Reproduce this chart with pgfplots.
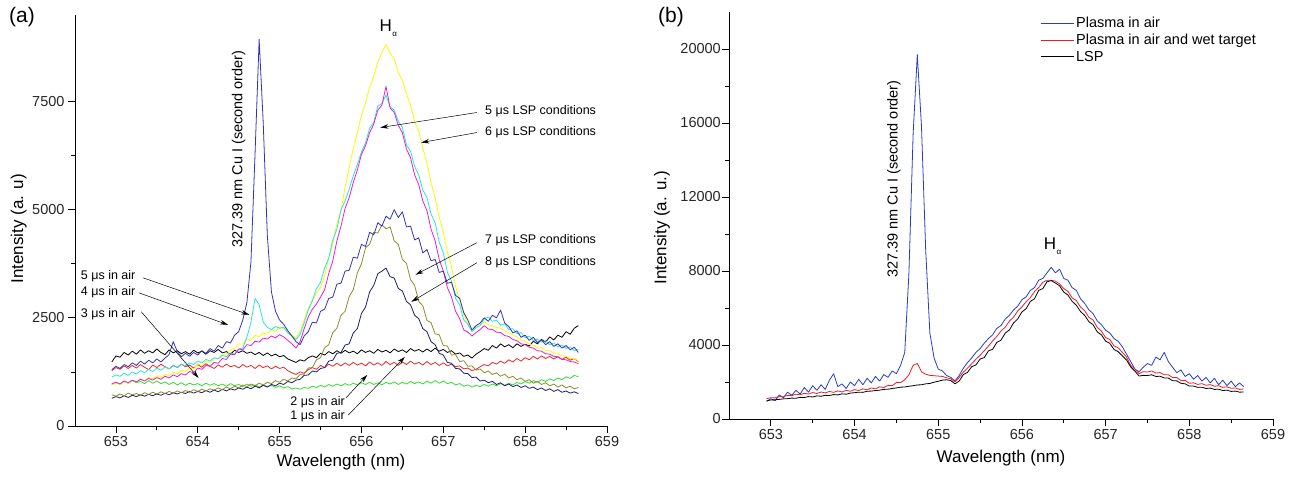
\documentclass[border=0pt]{standalone}
\usepackage{pgfplots}
\pgfplotsset{compat=1.18}
\usepackage{pgfplotstable}
\usepackage{fontspec}
\setmainfont{Liberation Sans}
\usetikzlibrary{arrows.meta}

\definecolor{blA}{RGB}{51,51,179}
\definecolor{cyA}{RGB}{40,228,228}
\definecolor{yeA}{RGB}{250,250,0}
\definecolor{maA}{RGB}{230,30,210}
\definecolor{olA}{RGB}{140,140,40}
\definecolor{nvA}{RGB}{30,30,110}
\definecolor{rdA}{RGB}{230,40,40}
\definecolor{grA}{RGB}{50,220,50}
\definecolor{blB}{RGB}{40,60,200}
\definecolor{rdB}{RGB}{230,30,40}

\pgfplotstableread{
x bl cy ye ma ol nv bk rd gr
652.95 1300 1130 950 980 720 640 1480 1280 950
653.00 1380 1180 990 1010 690 680 1620 1350 1010
653.05 1330 1150 960 970 740 650 1590 1310 970
653.10 1420 1220 1030 1040 700 700 1700 1390 1040
653.15 1370 1170 990 1000 760 660 1640 1330 990
653.20 1460 1250 1060 1060 720 710 1730 1400 1050
653.25 1400 1200 1020 1020 750 680 1660 1340 1000
653.30 1500 1280 1090 1080 710 720 1760 1420 1030
653.35 1430 1230 1050 1040 770 690 1680 1360 980
653.40 1520 1310 1120 1100 730 730 1740 1300 1050
653.45 1460 1260 1090 1060 780 700 1690 1410 990
653.50 1550 1340 1160 1120 740 740 1780 1350 1040
653.55 1480 1290 1120 1080 790 710 1700 1430 980
653.60 1570 1370 1200 1150 750 760 1650 1370 1020
653.65 1650 1320 1170 1110 800 720 1760 1320 960
653.70 1950 1400 1240 1180 760 770 1690 1400 1010
653.75 1720 1350 1210 1140 810 740 1740 1350 950
653.80 1600 1430 1290 1210 770 780 1670 1430 1000
653.85 1680 1390 1260 1180 820 750 1720 1370 940
653.90 1610 1460 1340 1260 780 800 1660 1410 990
653.95 1700 1420 1310 1230 840 760 1750 1340 950
654.00 1640 1500 1440 1340 800 800 1690 1420 980
654.05 1740 1460 1400 1310 850 770 1730 1360 930
654.10 1680 1540 1500 1400 810 820 1660 1440 990
654.15 1790 1500 1460 1380 860 780 1740 1380 940
654.20 1730 1580 1560 1470 830 830 1700 1330 980
654.25 1860 1550 1560 1450 880 790 1770 1410 930
654.30 1800 1630 1650 1560 840 850 1690 1360 970
654.35 1950 1600 1640 1540 900 810 1720 1430 920
654.40 1920 1690 1760 1660 860 860 1660 1370 980
654.45 2100 1660 1780 1650 920 830 1750 1400 930
654.50 2180 1780 1900 1780 880 880 1700 1340 960
654.55 2450 1800 1890 1760 950 850 1740 1420 910
654.60 2850 2050 2010 1880 910 900 1680 1360 970
654.65 3800 2400 1980 1860 970 860 1710 1400 920
654.70 6300 2950 2100 1960 930 920 1650 1330 950
654.75 8940 2800 2060 1940 990 880 1700 1410 900
654.80 7000 2400 2150 2030 950 940 1630 1350 950
654.85 4400 2280 2120 2010 1010 900 1690 1390 910
654.90 3100 2230 2230 2080 980 960 1620 1320 940
654.95 2650 2300 2190 2040 1050 930 1660 1380 890
655.00 2450 2260 2290 2110 1010 990 1600 1330 930
655.05 2350 2280 2250 2060 1080 960 1630 1360 880
655.10 2200 2150 2200 1980 1040 1030 1550 1280 910
655.15 2080 2080 2100 1900 1110 1000 1510 1230 860
655.20 1950 2000 2040 1800 1090 1060 1470 1190 880
655.25 1880 2120 2180 1950 1190 1080 1530 1250 850
655.30 2080 2380 2450 2250 1200 1170 1500 1220 890
655.35 2180 2680 2720 2520 1340 1180 1580 1300 870
655.40 2400 2900 2880 2700 1350 1270 1620 1350 920
655.45 2380 3180 3080 2820 1530 1250 1580 1310 890
655.50 2650 3320 3200 2980 1580 1330 1680 1400 940
655.55 2700 3650 3480 3150 1810 1350 1640 1350 900
655.60 2950 3880 3880 3520 1880 1500 1720 1430 960
655.65 2980 4300 4220 3820 2160 1520 1670 1380 920
655.70 3280 4550 4680 4280 2260 1680 1740 1450 970
655.75 3300 5000 4980 4620 2560 1700 1680 1390 930
655.80 3580 5200 5520 5030 2650 1870 1750 1460 980
655.85 3600 5480 5980 5280 2990 1900 1690 1400 940
655.90 3900 5780 6420 5630 3150 2150 1730 1470 990
655.95 3880 6050 6780 5920 3540 2250 1670 1410 950
656.00 4200 6330 7180 6280 3750 2600 1760 1450 1000
656.05 4150 6550 7480 6480 4120 2750 1700 1390 960
656.10 4480 6880 7830 6780 4200 3100 1740 1480 1010
656.15 4420 7020 8080 6980 4480 3250 1680 1410 960
656.20 4700 7400 8420 7300 4460 3520 1770 1460 1000
656.25 4620 7450 8630 7420 4650 3580 1710 1400 950
656.30 4850 7650 8820 7850 4560 3650 1750 1490 1010
656.35 4780 7380 8620 7350 4600 3450 1690 1420 970
656.40 5000 7300 8480 7250 4280 3420 1780 1470 1020
656.45 4820 7050 8180 6950 4200 3180 1720 1400 960
656.50 4950 6900 7980 6780 3850 3120 1760 1480 1010
656.55 4600 6500 7680 6400 3760 2880 1700 1420 970
656.60 4620 6350 7420 6200 3380 2800 1790 1500 1030
656.65 4300 6000 7030 5800 3250 2560 1730 1430 980
656.70 4350 5800 6820 5580 2880 2480 1770 1470 1020
656.75 4000 5450 6420 5200 2780 2250 1710 1410 970
656.80 4080 5280 6080 4980 2440 2180 1780 1490 1040
656.85 3820 4900 5620 4550 2390 1950 1720 1420 990
656.90 3850 4700 5280 4280 2130 1880 1800 1470 1050
656.95 3550 4250 4830 3850 2110 1680 1730 1400 990
657.00 3580 4000 4480 3580 1860 1640 1770 1460 1040
657.05 3300 3550 4020 3200 1850 1470 1700 1390 980
657.10 3320 3350 3680 2980 1640 1450 1740 1430 1010
657.15 3020 2950 3230 2650 1650 1330 1660 1370 950
657.20 2950 2800 2920 2480 1490 1320 1690 1390 980
657.25 2620 2450 2580 2220 1510 1220 1610 1320 920
657.30 2450 2350 2370 2170 1380 1210 1640 1340 950
657.35 2220 2180 2180 2080 1390 1120 1570 1280 900
657.40 2320 2280 2260 2160 1290 1130 1660 1310 940
657.45 2380 2320 2330 2230 1320 1040 1720 1370 910
657.50 2500 2480 2420 2320 1230 1060 1790 1420 960
657.55 2420 2520 2340 2240 1270 1000 1750 1390 920
657.60 2560 2420 2310 2230 1190 1030 1860 1470 970
657.65 2500 2450 2280 2170 1230 960 1800 1430 930
657.70 2680 2330 2260 2160 1150 1000 1900 1500 980
657.75 2380 2360 2200 2090 1200 930 1830 1450 940
657.80 2300 2230 2160 2070 1110 970 1880 1530 990
657.85 2150 2250 2100 2000 1150 910 1810 1480 950
657.90 2200 2130 2060 1970 1070 950 1900 1560 1010
657.95 2050 2160 1990 1900 1110 890 1840 1500 970
658.00 2100 2040 1960 1880 1030 930 1890 1580 1030
658.05 1980 2080 1890 1820 1070 870 1850 1530 990
658.10 2050 1970 1860 1800 990 900 1960 1610 1050
658.15 1930 2010 1800 1740 1030 840 1900 1550 1010
658.20 1990 1940 1810 1730 960 880 2000 1620 1070
658.25 1880 1970 1740 1670 1000 820 1940 1560 1030
658.30 1950 1880 1740 1660 930 860 2060 1610 1090
658.35 1840 1920 1680 1610 970 800 1990 1550 1050
658.40 1900 1830 1680 1600 900 840 2100 1600 1110
658.45 1800 1870 1620 1540 950 780 2050 1540 1070
658.50 1860 1790 1610 1530 880 810 2180 1590 1140
658.55 1760 1830 1560 1490 920 760 2120 1520 1100
658.60 1820 1740 1560 1480 860 790 2260 1560 1170
658.65 1700 1780 1510 1440 890 750 2320 1490 1140
}\tabA

\pgfplotstableread{
x bl rd bk
652.95 950 1100 980
653.00 1100 1150 1030
653.05 980 1140 1040
653.10 1300 1220 1060
653.15 1150 1200 1090
653.20 1450 1280 1100
653.25 1280 1260 1130
653.30 1550 1340 1120
653.35 1350 1310 1170
653.40 1700 1390 1160
653.45 1450 1350 1210
653.50 1800 1430 1190
653.55 1550 1380 1250
653.60 1850 1460 1230
653.65 1600 1410 1280
653.70 2100 1490 1270
653.75 2450 1440 1320
653.80 1750 1520 1300
653.85 1900 1460 1360
653.90 1650 1550 1340
653.95 2000 1500 1400
654.00 1800 1590 1420
654.05 2150 1540 1450
654.10 1850 1630 1440
654.15 2200 1580 1500
654.20 1950 1680 1510
654.25 2300 1630 1540
654.30 2050 1740 1560
654.35 2400 1700 1600
654.40 2250 1820 1610
654.45 2600 1800 1650
654.50 2450 1970 1680
654.55 2900 1970 1720
654.60 3600 2120 1730
654.65 7900 2400 1770
654.70 15400 2900 1800
654.75 19700 3000 1840
654.80 15800 2550 1850
654.85 9150 2420 1900
654.90 4650 2360 1920
654.95 3300 2340 1990
655.00 2700 2320 2040
655.05 2600 2300 2100
655.10 2350 2230 2120
655.15 2250 2170 2080
655.20 2050 2010 1900
655.25 2350 2240 2050
655.30 2750 2530 2400
655.35 3050 2750 2520
655.40 3300 2990 2830
655.45 3600 3230 2920
655.50 3800 3450 3240
655.55 4100 3690 3320
655.60 4350 3940 3680
655.65 4550 4220 3770
655.70 4900 4460 4140
655.75 5050 4760 4260
655.80 5400 4960 4640
655.85 5600 5290 4810
655.90 5900 5510 5190
655.95 6100 5840 5410
656.00 6450 6060 5790
656.05 6600 6340 5960
656.10 6950 6560 6350
656.15 7100 6890 6500
656.20 7500 7100 6950
656.25 7600 7390 7050
656.30 7900 7500 7420
656.35 8200 7500 7480
656.40 7900 7450 7350
656.45 8100 7300 7200
656.50 7600 7050 6860
656.55 7500 6900 6700
656.60 7100 6550 6360
656.65 6950 6400 6150
656.70 6500 6050 5810
656.75 6250 5850 5600
656.80 5900 5500 5260
656.85 5700 5350 5100
656.90 5300 4950 4710
656.95 5100 4750 4550
657.00 4800 4400 4210
657.05 4650 4300 4090
657.10 4350 3950 3760
657.15 4200 3850 3640
657.20 3900 3600 3410
657.25 3500 3350 3190
657.30 3100 2900 2810
657.35 2700 2700 2590
657.40 2550 2450 2320
657.45 2800 2560 2360
657.50 3000 2540 2350
657.55 2900 2600 2390
657.60 3350 2480 2300
657.65 3200 2510 2310
657.70 3600 2390 2220
657.75 3100 2390 2210
657.80 2800 2240 2070
657.85 2500 2240 2060
657.90 2650 2080 1930
657.95 2300 2090 1900
658.00 2450 1930 1780
658.05 2150 1960 1780
658.10 2350 1870 1710
658.15 2050 1910 1720
658.20 2250 1820 1650
658.25 1950 1860 1670
658.30 2200 1770 1600
658.35 1850 1800 1610
658.40 2100 1710 1540
658.45 1800 1740 1560
658.50 2050 1660 1490
658.55 1750 1680 1510
658.60 1950 1600 1450
658.65 1750 1620 1460
}\tabB

\pgfplotsset{common/.style={
  scale only axis, axis x line*=bottom, axis y line*=left,
  xmin=652.5, xmax=659, xtick={653,654,...,659}, minor x tick num=1,
  tick align=outside, major tick length=7pt, minor tick length=4pt,
  tick style={black, line width=0.8pt},
  axis line style={black, line width=0.9pt},
  ticklabel style={font=\fontsize{14.5}{14.5}\selectfont, text=black!85},
  label style={font=\fontsize{17}{17}\selectfont},
  /pgf/number format/assume math mode=true,
  /pgf/number format/1000 sep={},
  scaled ticks=false, clip=false,
  every axis plot/.append style={line width=0.8pt, line join=round}
}}
\newcommand\af{\fontsize{12.5}{12.5}\selectfont}
\tikzset{ann/.style={-{Stealth[length=8pt,width=4.5pt]}, line width=0.5pt, black}}

\begin{document}
\begin{tikzpicture}
\useasboundingbox (-75pt,-53pt) rectangle (1226pt,426pt);
\begin{axis}[common, at={(0pt,0pt)}, width=532pt, height=411pt,
  ymin=0, ymax=9500, ytick={0,2500,5000,7500}, minor y tick num=1,
  ylabel={Intensity (a. u)}, xlabel={Wavelength (nm)},
  ylabel style={at={(axis description cs:-0.106,0.48)}, anchor=center},
  xlabel style={at={(axis description cs:0.5,-0.0876)}, anchor=center}]
\addplot[no marks, color=grA] table[x=x, y=gr] {\tabA};
\addplot[no marks, color=rdA] table[x=x, y=rd] {\tabA};
\addplot[no marks, color=black] table[x=x, y=bk] {\tabA};
\addplot[no marks, color=nvA] table[x=x, y=nv] {\tabA};
\addplot[no marks, color=olA] table[x=x, y=ol] {\tabA};
\addplot[no marks, color=yeA] table[x=x, y=ye] {\tabA};
\addplot[no marks, color=cyA] table[x=x, y=cy] {\tabA};
\addplot[no marks, color=maA] table[x=x, y=ma] {\tabA};
\addplot[no marks, color=blA] table[x=x, y=bl] {\tabA};
\node[rotate=90, font=\fontsize{14.5}{14.5}\selectfont] at (axis cs:654.50,6400) {327.39 nm Cu I (second order)};
\node[anchor=west, inner sep=0pt, font=\fontsize{17}{17}\selectfont] at (axis cs:656.22,9190) {H\kern0.5pt\raisebox{-5pt}{\fontsize{8}{8}\selectfont α}};
\node[anchor=west, inner sep=0pt, font=\af] at (axis cs:652.57,3472) {5 μs in air};
\node[anchor=west, inner sep=0pt, font=\af] at (axis cs:652.57,3102) {4 μs in air};
\node[anchor=west, inner sep=0pt, font=\af] at (axis cs:652.57,2593) {3 μs in air};
\node[anchor=west, inner sep=0pt, font=\af] at (axis cs:655.13,556) {2 μs in air};
\node[anchor=west, inner sep=0pt, font=\af] at (axis cs:655.13,231) {1 μs in air};
\node[anchor=west, inner sep=0pt, font=\af] at (axis cs:657.51,7269) {5 μs LSP conditions};
\node[anchor=west, inner sep=0pt, font=\af] at (axis cs:657.51,6783) {6 μs LSP conditions};
\node[anchor=west, inner sep=0pt, font=\af] at (axis cs:657.51,4306) {7 μs LSP conditions};
\node[anchor=west, inner sep=0pt, font=\af] at (axis cs:657.51,3797) {8 μs LSP conditions};
\draw[ann] (axis cs:653.33,3426) -- (axis cs:654.63,2570);
\draw[ann] (axis cs:653.28,3079) -- (axis cs:654.37,2338);
\draw[ann] (axis cs:653.31,2639) -- (axis cs:654.01,1111);
\draw[ann] (axis cs:655.81,648) -- (axis cs:656.07,1180);
\draw[ann] (axis cs:655.84,255) -- (axis cs:656.53,1597);
\draw[ann] (axis cs:657.41,7246) -- (axis cs:656.23,6898);
\draw[ann] (axis cs:657.41,6783) -- (axis cs:656.73,6551);
\draw[ann] (axis cs:657.41,4236) -- (axis cs:656.66,3496);
\draw[ann] (axis cs:657.41,3773) -- (axis cs:656.61,2871);
\end{axis}

\begin{axis}[common, at={(654pt,7pt)}, width=544pt, height=407pt,
  ymin=0, ymax=22000, ytick={0,4000,8000,12000,16000,20000}, minor y tick num=1,
  yticklabel style={inner sep=1pt},
  ylabel={Intensity (a. u.)}, xlabel={Wavelength (nm)},
  ylabel style={at={(axis description cs:-0.123,0.47)}, anchor=center},
  xlabel style={at={(axis description cs:0.5,-0.0958)}, anchor=center},
  legend style={at={(axis description cs:0.5717,0.993)}, anchor=north west, draw=none, fill=none,
    font=\fontsize{14.5}{14.5}\selectfont, inner sep=0pt, row sep=1pt,
    nodes={inner sep=2pt}},
  legend cell align=left,
  legend image code/.code={\draw[#1, line width=0.9pt] (0pt,0pt) -- (33pt,0pt);}]
\addplot[no marks, color=blB] table[x=x, y=bl] {\tabB};
\addlegendentry{Plasma in air}
\addplot[no marks, color=rdB] table[x=x, y=rd] {\tabB};
\addlegendentry{Plasma in air and wet target}
\addplot[no marks, color=black] table[x=x, y=bk] {\tabB};
\addlegendentry{LSP}
\node[rotate=90, font=\fontsize{14.5}{14.5}\selectfont] at (axis cs:654.47,12970) {327.39 nm Cu I (second order)};
\node[anchor=west, inner sep=0pt, font=\fontsize{17}{17}\selectfont] at (axis cs:656.26,9350) {H\kern0.5pt\raisebox{-5pt}{\fontsize{8}{8}\selectfont α}};
\end{axis}

\node[font=\fontsize{21}{21}\selectfont] at (-53pt,409pt) {(a)};
\node[font=\fontsize{21}{21}\selectfont] at (596pt,409pt) {(b)};
\end{tikzpicture}
\end{document}
